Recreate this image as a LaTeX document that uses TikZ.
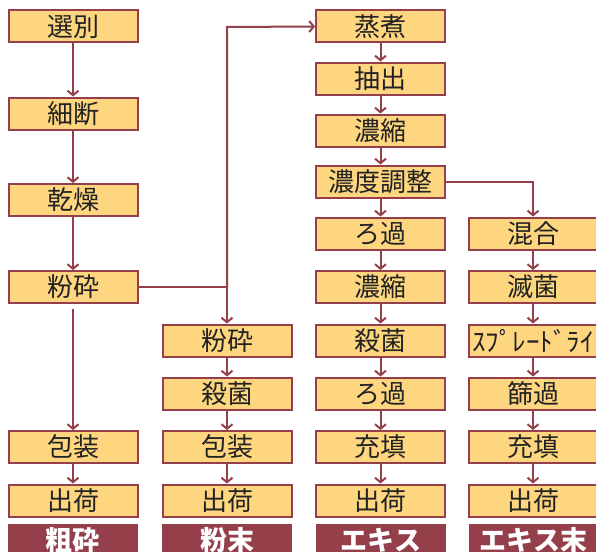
\documentclass[tikz,border=0pt]{standalone}
\usepackage{fontspec}
\setmainfont{Noto Sans CJK JP}
\usetikzlibrary{arrows.meta}
\definecolor{edge}{HTML}{953F4B}
\definecolor{boxfill}{HTML}{FED67F}
\definecolor{txt}{HTML}{222222}
\tikzset{
  stepbox/.style={draw=edge, line width=2pt, fill=boxfill, minimum width=129pt, minimum height=32pt, inner sep=0pt, text=txt, font=\fontsize{26}{26}\selectfont},
  tagbox/.style={fill=edge, minimum width=130pt, minimum height=32pt, inner sep=0pt, text=white, font=\fontsize{27}{27}\selectfont\bfseries, anchor=north},
  flow/.style={draw=edge, line width=2pt, -{Straight Barb[length=4.5pt,width=11pt,line width=2pt]}},
  plain/.style={draw=edge, line width=2pt}
}
\begin{document}
\begin{tikzpicture}[x=1pt,y=-1pt]
\useasboundingbox (0,0) rectangle (596,551);
% column 1
\node[stepbox] (a1) at (73,26.5) {選別};
\node[stepbox] (a2) at (73,113.5) {細断};
\node[stepbox] (a3) at (73,200) {乾燥};
\node[stepbox] (a4) at (73,287) {粉砕};
\node[stepbox] (a5) at (73,447) {包装};
\node[stepbox] (a6) at (73,500.5) {出荷};
\node[tagbox] (t1) at (72.5,524) {粗砕};
% column 2
\node[stepbox] (b1) at (227,340.5) {粉砕};
\node[stepbox] (b2) at (227,393.5) {殺菌};
\node[stepbox] (b3) at (227,447) {包装};
\node[stepbox] (b4) at (227,500.5) {出荷};
\node[tagbox] (t2) at (227,524) {粉末};
% column 3
\node[stepbox] (c1) at (380.5,26.5) {蒸煮};
\node[stepbox] (c2) at (380.5,78.5) {抽出};
\node[stepbox] (c3) at (380.5,130.5) {濃縮};
\node[stepbox] (c4) at (380.5,181.5) {濃度調整};
\node[stepbox] (c5) at (380.5,233.5) {ろ過};
\node[stepbox] (c6) at (380.5,287) {濃縮};
\node[stepbox] (c7) at (380.5,340.5) {殺菌};
\node[stepbox] (c8) at (380.5,393.5) {ろ過};
\node[stepbox] (c9) at (380.5,447) {充填};
\node[stepbox] (c10) at (380.5,500.5) {出荷};
\node[tagbox] (t3) at (381,524) {エキス};
% column 4
\node[stepbox] (d1) at (533,233.5) {混合};
\node[stepbox] (d2) at (533,287) {滅菌};
\node[stepbox] (d3) at (533,340.5) {\scalebox{1.04}[1]{ｽﾌﾟﾚｰﾄﾞﾗｲ}};
\node[stepbox] (d4) at (533,393.5) {篩過};
\node[stepbox] (d5) at (533,447) {充填};
\node[stepbox] (d6) at (533,500.5) {出荷};
\node[tagbox] (t4) at (533.5,524) {エキス末};
% coordinates
\coordinate (j1) at (227,287);
\coordinate (j2) at (227,27);
\coordinate (j3) at (533,181.5);
% connectors
\draw[flow] (a1) -- (a2);
\draw[flow] (a2) -- (a3);
\draw[flow] (a3) -- (a4);
\draw[flow] ([yshift=-5pt]a4.south) -- (a5);
\draw[flow] (a5) -- (a6);
\draw[plain] (a4.east) -- (j1);
\draw[flow] (j1) -- (b1);
\draw[flow] (j1) -- (j2) -- (c1.west);
\draw[flow] (b1) -- (b2);
\draw[flow] (b2) -- (b3);
\draw[flow] (b3) -- (b4);
\draw[flow] (c1) -- (c2);
\draw[flow] (c2) -- (c3);
\draw[flow] (c3) -- (c4);
\draw[flow] (c4) -- (c5);
\draw[flow] (c5) -- (c6);
\draw[flow] (c6) -- (c7);
\draw[flow] (c7) -- (c8);
\draw[flow] (c8) -- (c9);
\draw[flow] (c9) -- (c10);
\draw[flow] (c4.east) -- (j3) -- (d1);
\draw[flow] (d1) -- (d2);
\draw[flow] (d2) -- (d3);
\draw[flow] (d3) -- (d4);
\draw[flow] (d4) -- (d5);
\draw[flow] (d5) -- (d6);
\end{tikzpicture}
\end{document}
